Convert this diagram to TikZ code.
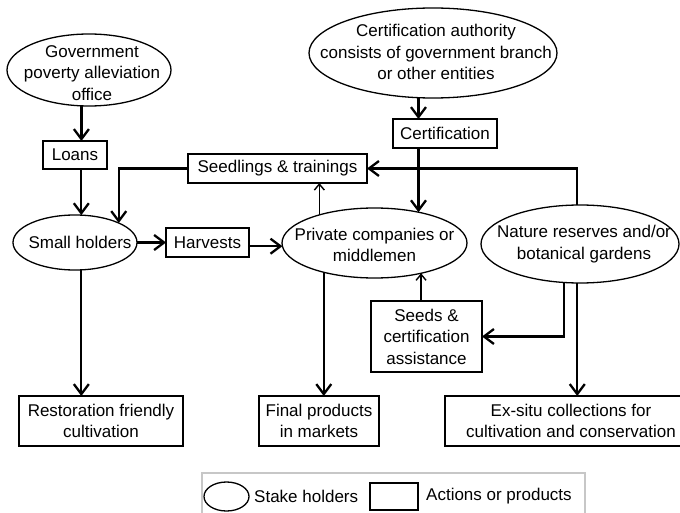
\documentclass[tikz,border=0pt]{standalone}
\usepackage{fontspec}
\setmainfont{Liberation Sans}
\usetikzlibrary{shapes.geometric,arrows.meta}
\begin{document}
\begin{tikzpicture}[x=1pt,y=-1pt,
  font=\fontsize{17}{21.5}\selectfont,
  sh/.style={draw,ellipse,line width=1.3pt,inner sep=0pt,outer sep=0pt},
  act/.style={draw,rectangle,line width=1.3pt,inner sep=0pt,outer sep=0pt,align=center},
  txt/.style={align=center,inner sep=0pt},
  arr/.style={line width=2.3pt,-{Straight Barb[length=10pt,width=15pt]}},
  tarr/.style={line width=1.4pt,-{Straight Barb[length=6pt,width=10pt]}},
]
\useasboundingbox (0,0) rectangle (680,513);

% stake holders (ellipses)
\node[sh,minimum width=164pt,minimum height=72pt] (gov) at (89,70) {};
\node[txt] (govt) at (92,73) {Government\\poverty alleviation\\office};
\node[sh,minimum width=248pt,minimum height=90pt] (cert) at (433,53) {};
\node[txt] (certt) at (436,52) {Certification authority\\consists of government branch\\or other entities};
\node[sh,minimum width=124pt,minimum height=55pt] (small) at (75,242.5) {};
\node[txt] (smallt) at (80,242.5) {Small holders};
\node[sh,minimum width=185pt,minimum height=70pt] (private) at (374.5,243) {};
\node[txt] (privatet) at (374.5,245) {Private companies or\\middlemen};
\node[sh,minimum width=198pt,minimum height=78pt] (nature) at (580,244) {};
\node[txt] (naturet) at (584,244) {Nature reserves and/or\\botanical gardens};

% actions or products (boxes)
\node[act,minimum width=64pt,minimum height=28pt] (loans) at (75,155) {Loans};
\node[act,minimum width=104pt,minimum height=29pt] (certbox) at (445,133.5) {Certification};
\node[act,minimum width=179pt,minimum height=29pt] (seedlings) at (277.5,168.5) {Seedlings \& trainings};
\node[act,minimum width=83pt,minimum height=29pt] (harvests) at (207.5,242.5) {Harvests};
\node[act,minimum width=111pt,minimum height=71pt] (seeds) at (426.5,336.5) {Seeds \&\\certification\\assistance};
\node[act,minimum width=164pt,minimum height=50pt] (restoration) at (101,421) {Restoration friendly\\cultivation};
\node[act,minimum width=120pt,minimum height=50pt] (final) at (319,421) {Final products\\in markets};
\node[act,minimum width=252pt,minimum height=50pt] (exsitu) at (571,421) {Ex-situ collections for\\cultivation and conservation};

% connectors
\draw[arr] (gov.-102.6) -- (gov.-102.6 |- loans.north);
\draw[arr] (small.77.4 |- loans.south) -- (small.77.4);
\draw[arr] (seedlings.west) -| (small.24.3);
\draw[arr] (small.east) -- (harvests.west);
\draw[arr] (private.182.5 -| harvests.east) -- (private.182.5);
\draw[tarr] (private.153.2) -- (private.153.2 |- seedlings.south);
\draw[arr] (cert.-108.6) -- (cert.-108.6 |- certbox.north);
\draw[arr] (private.35.4 |- certbox.south) -- (private.35.4);
\draw[arr] (nature.94.4) |- (seedlings.east);
\draw[tarr] (private.-33.05 |- seeds.north) -- (private.-33.05);
\draw[arr] (nature.-113.9) |- (seeds.east);
\draw[arr] (nature.-94.4) -- (nature.-94.4 |- exsitu.north);
\draw[arr] (small.-77.4) -- (small.-77.4 |- restoration.north);
\draw[arr] (private.210.9) -- (private.210.9 |- final.north);

% legend
\node[draw=black!22,line width=1.6pt,rectangle,inner sep=0pt,outer sep=0pt,minimum width=383pt,minimum height=60pt] (legend) at (393.5,503) {};
\node[sh,minimum width=45pt,minimum height=29pt] (legell) at (226.5,496.5) {};
\node[txt,anchor=west] (legellt) at (254,496.5) {Stake holders};
\node[act,minimum width=48pt,minimum height=27pt] (legbox) at (394,496.5) {};
\node[txt,anchor=west] (legboxt) at (426,496.5) {Actions or products};
\end{tikzpicture}
\end{document}
